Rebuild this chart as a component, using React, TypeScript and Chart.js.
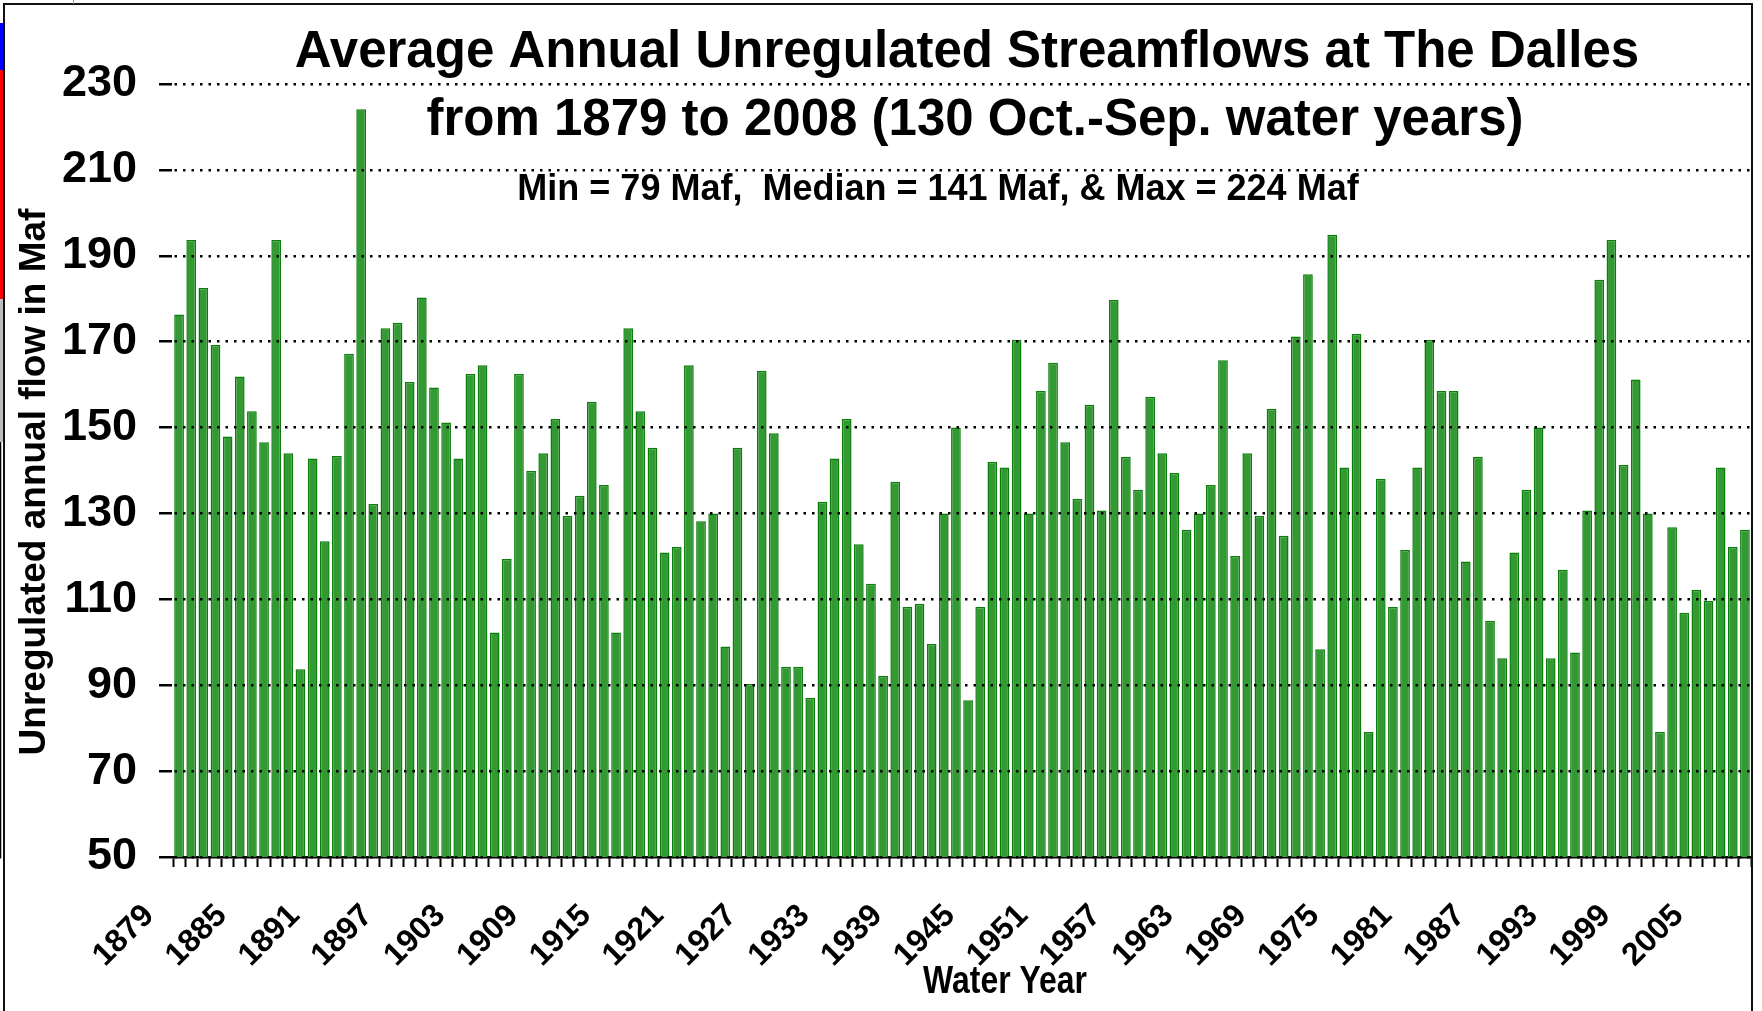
import React, { useEffect, useRef } from "react";
import { Chart, registerables } from "chart.js";

Chart.register(...registerables);

// ---- DATA ----
const FIRST_YEAR = 1879;
const LAST_YEAR = 2008;
const waterYears: string[] = [];
for (let y = FIRST_YEAR; y <= LAST_YEAR; y++) waterYears.push(String(y));

const labeledYears: string[] = [
  "1879", "1885", "1891", "1897", "1903", "1909", "1915", "1921", "1927", "1933", "1939",
  "1945", "1951", "1957", "1963", "1969", "1975", "1981", "1987", "1993", "1999", "2005",
];

// Average annual unregulated flow (Maf), water years 1879..2008
const flows1879to1894: number[] = [176.3, 193.7, 182.5, 169.2, 147.9, 161.9, 153.8, 146.6, 193.7, 144.0, 93.7, 142.8, 123.5, 143.4, 167.2, 224.1];
const flows1895to1911: number[] = [132.2, 173.1, 174.4, 160.6, 180.3, 159.3, 151.2, 142.8, 162.5, 164.5, 102.3, 119.4, 162.5, 139.9, 144.0, 152.0, 129.4];
const flows1912to1927: number[] = [134.1, 156.0, 136.6, 102.3, 173.1, 153.8, 145.3, 120.9, 122.2, 164.5, 128.2, 130.0, 99.0, 145.3, 90.3, 163.2];
const flows1928to1944: number[] = [148.7, 94.3, 94.3, 87.1, 132.7, 142.8, 152.0, 122.8, 113.6, 92.2, 137.4, 108.2, 109.0, 99.6, 130.0, 150.0, 86.5];
const flows1945to1960: number[] = [108.2, 142.0, 140.7, 170.4, 130.0, 158.5, 165.1, 146.6, 133.4, 155.3, 130.7, 179.7, 143.2, 135.5, 157.2, 144.0];
const flows1961to1977: number[] = [139.4, 126.2, 130.0, 136.6, 165.7, 120.1, 144.0, 129.4, 154.4, 124.8, 171.2, 185.7, 98.4, 194.9, 140.7, 171.8, 79.1];
const flows1978to1993: number[] = [138.1, 108.2, 121.5, 140.7, 170.4, 158.5, 158.5, 118.8, 143.2, 105.0, 96.3, 120.9, 135.5, 150.0, 96.3, 116.9];
const flows1994to2008: number[] = [97.6, 130.7, 184.4, 193.7, 141.3, 161.2, 130.0, 79.1, 126.8, 106.9, 112.2, 109.6, 140.7, 122.2, 126.2];

const annualFlow: number[] = [
  ...flows1879to1894, ...flows1895to1911, ...flows1912to1927, ...flows1928to1944,
  ...flows1945to1960, ...flows1961to1977, ...flows1978to1993, ...flows1994to2008,
];

const Y_MIN = 50;
const Y_MAX = 230;
const Y_STEP = 20;

const titleLines: string[] = [
  "Average Annual Unregulated Streamflows at The Dalles",
  "from 1879 to 2008 (130 Oct.-Sep. water years)",
];
const statsLine = "Min = 79 Maf,  Median = 141 Maf, & Max = 224 Maf";
const yAxisTitle = "Unregulated annual flow in Maf";
const xAxisTitle = "Water Year";

const FONT = "'Liberation Sans', Arial, Helvetica, sans-serif";

const textPlugin = {
  id: "customTexts",
  afterDraw(chart: any) {
    const ctx = chart.ctx as CanvasRenderingContext2D;
    ctx.save();
    ctx.fillStyle = "#000";
    ctx.textAlign = "center";
    ctx.textBaseline = "alphabetic";
    ctx.font = `bold 51px ${FONT}`;
    ctx.fillText(titleLines[0], 967, 67);
    ctx.fillText(titleLines[1], 975, 135);
    ctx.font = `bold 36px ${FONT}`;
    ctx.fillText(statsLine, 938, 200);

    ctx.save();
    ctx.translate(1005, 993);
    ctx.scale(0.84, 1);
    ctx.font = `bold 38px ${FONT}`;
    ctx.fillText(xAxisTitle, 0, 0);
    ctx.restore();

    ctx.translate(35, 482);
    ctx.rotate(-Math.PI / 2);
    ctx.textBaseline = "middle";
    ctx.font = `bold 37px ${FONT}`;
    ctx.fillText(yAxisTitle, 0, 0);
    ctx.restore();
  },
};

export default function App() {
  const canvasRef = useRef<HTMLCanvasElement | null>(null);

  useEffect(() => {
    document.body.style.margin = "0";
    document.body.style.overflow = "hidden";
    const canvas = canvasRef.current;
    if (!canvas) return;
    const chart = new Chart(canvas, {
      type: "bar",
      data: {
        labels: waterYears,
        datasets: [
          {
            data: annualFlow,
            backgroundColor: "#339933",
            borderColor: "#0a7d0a",
            borderWidth: 1.5,
            barPercentage: 0.8,
            categoryPercentage: 1.0,
          },
        ],
      },
      options: {
        responsive: false,
        animation: false,
        devicePixelRatio: 1,
        layout: { padding: { top: 84, right: 11, bottom: 0, left: 0 } },
        plugins: {
          legend: { display: false },
          title: { display: false },
          tooltip: { enabled: false },
        },
        scales: {
          x: {
            offset: true,
            afterFit: (s: any) => {
              s.height = 154;
              s.paddingLeft = 0;
              s.paddingRight = 0;
            },
            grid: {
              display: true,
              drawOnChartArea: false,
              drawTicks: true,
              tickLength: 10,
              tickWidth: 2,
              tickColor: "#000",
              color: "#000",
              offset: true,
            },
            border: { display: true, color: "#000", width: 2.5 },
            ticks: {
              autoSkip: false,
              minRotation: 45,
              maxRotation: 45,
              padding: 30,
              labelOffset: -30,
              color: "#000",
              font: { family: FONT, size: 32, weight: "bold" },
              callback: (_v: any, i: number) =>
                labeledYears.includes(waterYears[i]) ? waterYears[i] : "",
            },
          },
          y: {
            min: Y_MIN,
            max: Y_MAX,
            afterFit: (s: any) => {
              s.width = 173;
              s.paddingTop = 0;
              s.paddingBottom = 0;
            },
            grid: {
              display: true,
              color: "#000",
              lineWidth: 2.5,
              drawTicks: true,
              tickLength: 14,
              tickWidth: 2.5,
              tickColor: "#000",
              tickBorderDash: [],
              z: 1,
            },
            border: { display: true, color: "#000", width: 2.5, dash: [2.5, 6] },
            ticks: {
              stepSize: Y_STEP,
              padding: 22,
              color: "#000",
              font: { family: FONT, size: 45, weight: "bold" },
            },
          },
        },
      },
      plugins: [textPlugin],
    });
    return () => chart.destroy();
  }, []);

  return (
    <div
      style={{
        position: "relative",
        width: 1762,
        height: 1011,
        overflow: "hidden",
        background: "#fff",
      }}
    >
      <canvas
        ref={canvasRef}
        width={1762}
        height={1011}
        style={{ position: "absolute", left: 0, top: 0, width: 1762, height: 1011 }}
      />
      <div
        style={{
          position: "absolute",
          left: 3,
          top: 3,
          width: 1750,
          height: 1060,
          border: "2px solid #111",
          boxSizing: "border-box",
          pointerEvents: "none",
        }}
      />
      <div style={{ position: "absolute", left: 0, top: 23, width: 3, height: 47, background: "#0000ff" }} />
      <div style={{ position: "absolute", left: 0, top: 70, width: 3, height: 229, background: "#ff0000" }} />
      <div style={{ position: "absolute", left: 0, top: 299, width: 3, height: 143, background: "#bdbdbd" }} />
      <div style={{ position: "absolute", left: 73, top: 0, width: 1, height: 4, background: "#999" }} />
    </div>
  );
}
